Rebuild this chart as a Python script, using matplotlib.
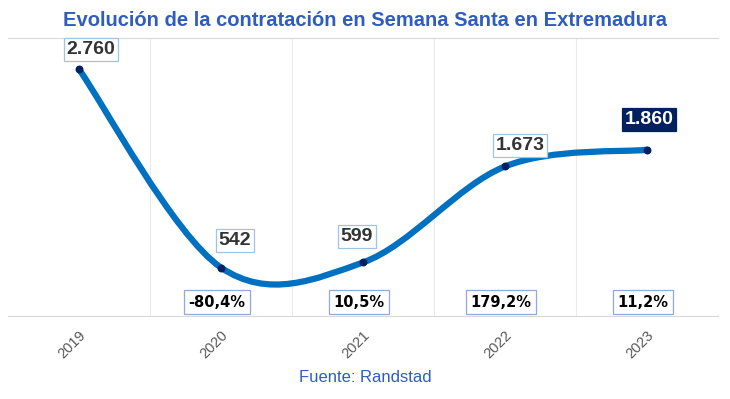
import matplotlib.pyplot as plt
from matplotlib.path import Path
from matplotlib.patches import PathPatch
import numpy as np

years = ["2019", "2020", "2021", "2022", "2023"]
contracts = [2760, 542, 599, 1673, 1860]
value_labels = ["2.760", "542", "599", "1.673", "1.860"]
change_labels = ["-80,4%", "10,5%", "179,2%", "11,2%"]

LINE = "#0070C0"
NAVY = "#002060"
TITLE_BLUE = "#2F5DBF"

plt.rcParams["font.family"] = ["Liberation Sans", "DejaVu Sans"]

fig = plt.figure(figsize=(7.30, 3.99), dpi=100)
ax = fig.add_axes([8 / 730, 1 - 316 / 399, 710 / 730, 278 / 399])

x = np.arange(len(years), dtype=float)
y = np.array(contracts, dtype=float)


def smooth_path(xs, ys):
    # excel-like smoothed line: cubic bezier with catmull-rom control points
    pts = np.column_stack([xs, ys])
    n = len(pts)
    verts = [pts[0]]
    codes = [Path.MOVETO]
    for i in range(n - 1):
        p_prev = pts[max(i - 1, 0)]
        p0 = pts[i]
        p1 = pts[i + 1]
        p_next = pts[min(i + 2, n - 1)]
        c1 = p0 + (p1 - p_prev) / 6
        c2 = p1 - (p_next - p0) / 6
        verts += [c1, c2, p1]
        codes += [Path.CURVE4] * 3
    return Path(verts, codes)


ax.add_patch(PathPatch(smooth_path(x, y), facecolor="none", edgecolor=LINE,
                       lw=4.5, capstyle="round", zorder=3))
ax.scatter(x, y, s=22, color=NAVY, zorder=4)

# value labels
offsets = [(12, 20), (14, 27), (-6, 26), (15, 21), (2, 30)]
for i, (xi, yi) in enumerate(zip(x, y)):
    last = i == len(x) - 1
    ax.annotate(value_labels[i], (xi, yi), xytext=offsets[i],
                textcoords="offset pixels", ha="center", va="center",
                fontsize=14, fontweight="bold",
                color="white" if last else "#333333", zorder=5,
                bbox=dict(boxstyle="square,pad=0.15",
                          fc=NAVY if last else "white",
                          ec=NAVY if last else "#9DC3E6", lw=0.9))

# year-on-year change labels
for i, lab in enumerate(change_labels):
    ax.text(x[i + 1] - 0.03, 0.05, lab, transform=ax.get_xaxis_transform(),
            ha="center", va="center", fontsize=10.5, fontweight="bold",
            family="DejaVu Sans", color="black", zorder=5,
            bbox=dict(boxstyle="square,pad=0.3", fc="white",
                      ec="#8FAADC", lw=0.9))

ax.set_xlim(-0.5, len(years) - 0.5)
ax.set_ylim(0, 3110)
ax.set_yticks([])
ax.set_xticks(x)
ax.set_xticklabels(years, rotation=45, ha="right", rotation_mode="anchor",
                   color="#595959", fontsize=10.5)
ax.tick_params(axis="x", length=0, pad=9)
for b in np.arange(0.5, len(years) - 0.5):
    ax.axvline(b, color="#EBEBEB", lw=0.8, zorder=1)
for side in ["left", "right"]:
    ax.spines[side].set_visible(False)
ax.spines["top"].set_color("#D9D9D9")
ax.spines["bottom"].set_color("#D9D9D9")

fig.text(0.5, 1 - 21 / 399, "Evolución de la contratación en Semana Santa en Extremadura",
         ha="center", va="center", fontsize=14.5, fontweight="bold", color=TITLE_BLUE)
fig.text(0.5, 1 - 378 / 399, "Fuente: Randstad", ha="center", va="center",
         fontsize=12, color=TITLE_BLUE)

fig.savefig("out.png", dpi=100)
